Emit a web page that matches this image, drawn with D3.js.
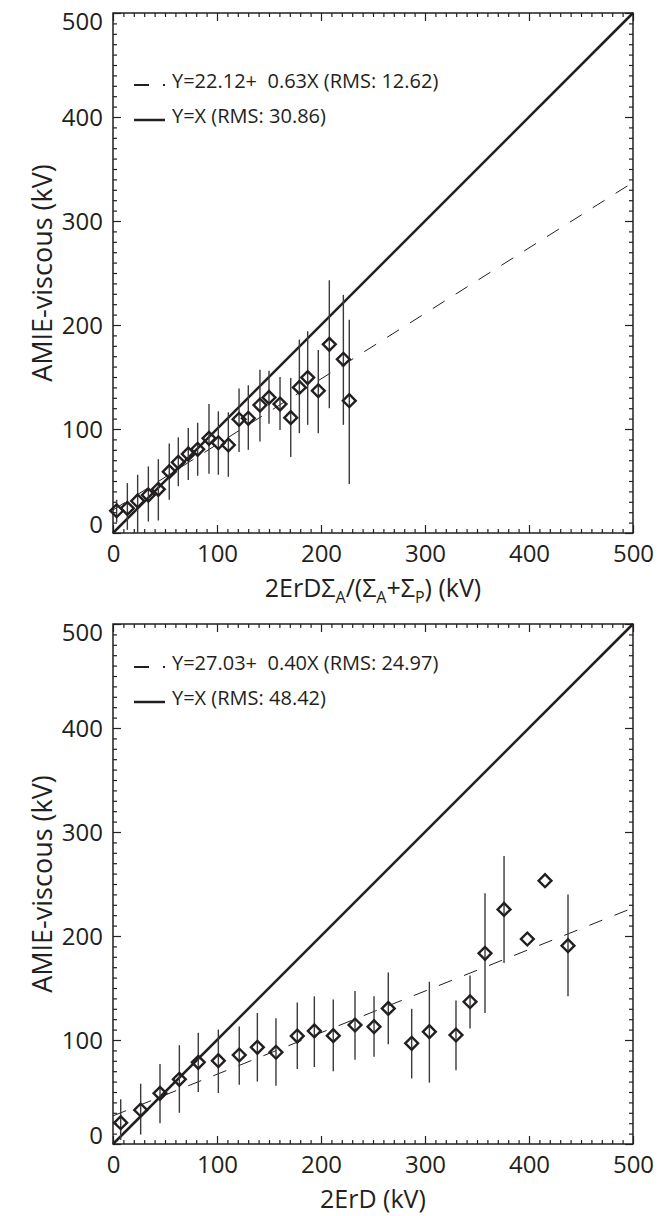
<!DOCTYPE html>
<html>
<head>
<meta charset="utf-8">
<script src="https://cdn.jsdelivr.net/npm/d3@7"></script>
<style>
  body { margin: 0; background: #fff; }
  svg text { font-family: "Open Sans", sans-serif; fill: #231f20; }
  .leg { white-space: pre; }
</style>
</head>
<body>
<svg id="chart" width="665" height="1216"></svg>
<script>
// upper panel: 2ErD*SigA/(SigA+SigP) against AMIE-viscous
const topX  = [3.5, 13.8, 23.7, 34.0, 43.6, 54.1, 62.8, 72.4, 81.4, 92.3, 101.3, 110.9, 121.2, 130.1, 141.3, 150.0, 160.6, 170.9, 179.2, 187.2, 197.4, 208.0, 221.5, 227.2]
const topY  = [21.4, 23.7, 30.8, 36.5, 42.0, 59.0, 68.0, 76.0, 80.5, 91.0, 86.8, 84.6, 109.3, 110.3, 123.0, 130.4, 124.0, 110.9, 140.0, 149.4, 136.8, 181.4, 167.0, 127.2]
const topLo = [10, 3, 0, 11, 12, 32, 45, 51, 55, 57, 56, 54, 78, 80, 88, 105, 99, 73, 96, 104, 96, 120, 104, 47]
const topHi = [32, 48, 56, 64, 71, 86, 92, 101, 106, 124, 117, 116, 139, 142, 157, 156, 150, 149, 186, 194, 176, 243, 229, 205]

// lower panel: 2ErD against AMIE-viscous
const botX  = [7.4, 26.6, 45.2, 63.8, 82.0, 101.3, 121.4, 138.8, 156.7, 177.2, 193.6, 211.8, 232.7, 251.0, 264.7, 287.2, 304.2, 329.8, 343.3, 357.7, 376.0, 398.4, 415.4, 437.5]
const botY  = [20.5, 32.7, 48.7, 62.2, 78.5, 80.1, 85.6, 93.0, 88.2, 103.8, 108.7, 104.2, 114.4, 112.8, 130.4, 96.8, 108.0, 104.8, 136.8, 183.3, 225.6, 197.1, 253.2, 190.7]
const botLo = [4, 9, 20, 30, 50, 49, 57, 60, 56, 72, 74, 70, 81, 84, 96, 63, 59, 71, 111, 126, 174, null, null, 142]
const botHi = [43, 58, 77, 95, 107, 110, 113, 126, 121, 136, 142, 139, 147, 142, 165, 130, 156, 138, 162, 241, 277, null, null, 240]

const fitA = [22.12, 27.03]
const fitB = [0.63, 0.40]
const topLegend = ["Y=22.12+  0.63X (RMS: 12.62)", "Y=X (RMS: 30.86)"]
const botLegend = ["Y=27.03+  0.40X (RMS: 24.97)", "Y=X (RMS: 48.42)"]

const majorTicks = [0, 100, 200, 300, 400, 500]
const minorTicks = d3.range(0, 501, 10).filter(v => v % 100 !== 0)
const yTitle = "AMIE-viscous (kV)"

const ink = "#231f20"
const W = 520, H = 520
const svg = d3.select("#chart")

function drawPanel(top, xs, ys, lo, hi, a, b, legend, legTop, xTitleFn) {
  const x = d3.scaleLinear().domain([0, 500]).range([0, W])
  const y = d3.scaleLinear().domain([0, 500]).range([H, 0])
  const g = svg.append("g").attr("transform", `translate(113,${top})`)

  // ticks on all four sides, pointing inwards
  const sides = [
    [d3.axisBottom(x), `translate(0,${H})`],
    [d3.axisTop(x), "translate(0,0)"],
    [d3.axisLeft(y), "translate(0,0)"],
    [d3.axisRight(y), `translate(${W},0)`]
  ]
  sides.forEach(([ax, tr], i) => {
    g.append("g").attr("transform", tr)
      .call(ax.tickValues(minorTicks).tickSize(-4).tickFormat(""))
      .call(s => s.select(".domain").remove())
    const m = g.append("g").attr("transform", tr)
      .call(ax.tickValues(majorTicks).tickSize(-8).tickSizeOuter(0)
        .tickPadding(i === 0 ? 12 : 10).tickFormat(i < 1 || i === 2 ? d3.format("d") : ""))
      .call(s => s.select(".domain").remove())
    m.selectAll("text").attr("font-size", 24).attr("font-family", null).attr("fill", ink)
    if (i === 2) {
      m.selectAll("text").attr("dy", v => v === 0 ? "-0.02em" : v === 500 ? "0.68em" : "0.34em")
    }
  })
  g.selectAll(".tick line").attr("stroke", ink).attr("stroke-width", 1.2)

  g.append("rect").attr("width", W).attr("height", H)
    .attr("fill", "none").attr("stroke", ink).attr("stroke-width", 1.5)

  // Y = X
  g.append("line")
    .attr("x1", x(0)).attr("y1", y(0)).attr("x2", x(500)).attr("y2", y(500))
    .attr("stroke", ink).attr("stroke-width", 2.5)

  // linear fit
  g.append("line")
    .attr("x1", x(0)).attr("y1", y(a)).attr("x2", x(500)).attr("y2", y(a + b * 500))
    .attr("stroke", ink).attr("stroke-width", 1).attr("stroke-dasharray", "14,13")

  const pts = xs.map((v, i) => ({ x: v, y: ys[i], lo: lo[i], hi: hi[i] }))

  g.selectAll(".err").data(pts.filter(d => d.lo !== null)).enter().append("line")
    .attr("class", "err")
    .attr("x1", d => x(d.x)).attr("x2", d => x(d.x))
    .attr("y1", d => y(d.lo)).attr("y2", d => y(d.hi))
    .attr("stroke", "#3a3a3a").attr("stroke-width", 1.4)

  const diamond = d3.symbol(d3.symbolSquare, 82)
  g.selectAll(".pt").data(pts).enter().append("path")
    .attr("class", "pt")
    .attr("d", diamond)
    .attr("transform", d => `translate(${x(d.x)},${y(d.y)}) rotate(45)`)
    .attr("fill", "none").attr("stroke", ink).attr("stroke-width", 2.4)

  // legend
  g.append("line").attr("x1", 21).attr("x2", 52).attr("y1", legTop + 4).attr("y2", legTop + 4)
    .attr("stroke", ink).attr("stroke-width", 2).attr("stroke-dasharray", "15,14")
  g.append("line").attr("x1", 21).attr("x2", 52).attr("y1", legTop + 39).attr("y2", legTop + 39)
    .attr("stroke", ink).attr("stroke-width", 2.5)
  legend.forEach((t, i) => {
    g.append("text").attr("class", "leg").attr("x", 59).attr("y", legTop + 7 + i * 35)
      .attr("font-size", 20).text(t)
  })

  // axis titles
  g.append("text")
    .attr("transform", `translate(-61,${H / 2}) rotate(-90)`)
    .attr("text-anchor", "middle").attr("font-size", 27).text(yTitle)
  const xt = g.append("text").attr("x", W / 2).attr("y", H + 64)
    .attr("text-anchor", "middle").attr("font-size", 25)
  xTitleFn(xt)
}

drawPanel(13, topX, topY, topLo, topHi, fitA[0], fitB[0], topLegend, 68, t => {
  t.append("tspan").text("2ErDΣ")
  t.append("tspan").attr("font-size", 16).attr("dy", 6).text("A")
  t.append("tspan").attr("dy", -6).text("/(Σ")
  t.append("tspan").attr("font-size", 16).attr("dy", 6).text("A")
  t.append("tspan").attr("dy", -6).text("+Σ")
  t.append("tspan").attr("font-size", 16).attr("dy", 6).text("P")
  t.append("tspan").attr("dy", -6).text(") (kV)")
})

drawPanel(624, botX, botY, botLo, botHi, fitA[1], fitB[1], botLegend, 39, t => {
  t.text("2ErD (kV)")
})
</script>
</body>
</html>
